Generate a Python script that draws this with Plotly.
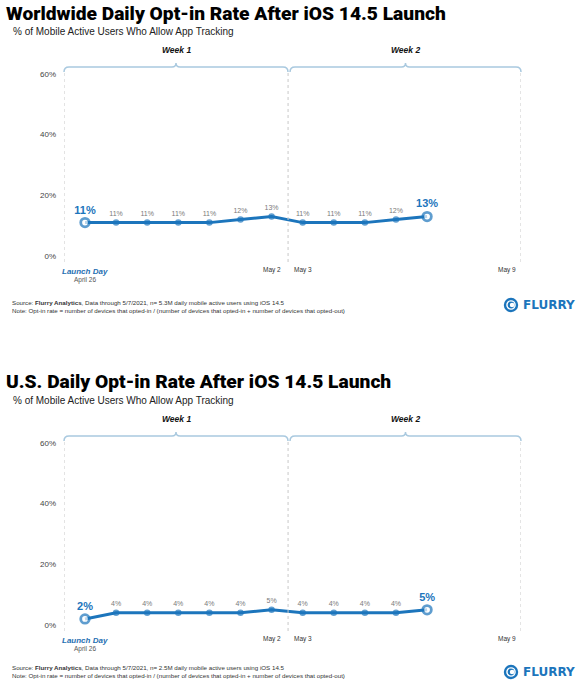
import plotly.graph_objects as go

W, H = 582, 691

# ---------------- data ----------------
day_index = list(range(12))  # Apr 26 .. May 7
ww_values = [11, 11, 11, 11, 11, 12, 13, 11, 11, 11, 12, 13]
us_values = [2, 4, 4, 4, 4, 4, 5, 4, 4, 4, 4, 5]
titles = ["Worldwide Daily Opt-in Rate After iOS 14.5 Launch",
          "U.S. Daily Opt-in Rate After iOS 14.5 Launch"]
subtitle = "% of Mobile Active Users Who Allow App Tracking"
sample_sizes = ["5.3M", "2.5M"]
y_ticks = [0, 20, 40, 60]
week_labels = ["Week 1", "Week 2"]
x_labels = ["May 2", "May 3", "May 9"]
x_label_pos = [6, 7, 13.57]
week_bounds = [-0.675, 6.53, 14.02]

BLUE = "#1c75bc"
BRACE = "#a9c9df"
GRAY = "#7a7a7a"


def px(x):
    return x / W


def py(y):
    return 1 - y / H


fig = go.Figure()
annotations = []
shapes = []

XR = [week_bounds[0], week_bounds[2]]
YR = [-1.98, 61.3]

for k, (vals, title, n) in enumerate(zip([ww_values, us_values], titles, sample_sizes)):
    off = 369 * k
    xa = "x" if k == 0 else "x2"
    ya = "y" if k == 0 else "y2"
    xname = "xaxis" if k == 0 else "xaxis2"
    yname = "yaxis" if k == 0 else "yaxis2"

    last = len(vals) - 1
    texts = []
    sizes, fills, lws, tsizes, tcolors = [], [], [], [], []
    for i, v in enumerate(vals):
        end = i in (0, last)
        texts.append(f"<b>{v}%</b>" if end else f"{v}%")
        sizes.append(8.5 if end else 6.5)
        fills.append("white" if end else BLUE)
        lws.append(2.8 if end else 0)
        tsizes.append(11 if end else 7)
        tcolors.append(BLUE if end else GRAY)

    fig.add_trace(go.Scatter(
        x=day_index, y=vals, xaxis=xa, yaxis=ya,
        mode="lines+markers+text",
        line=dict(color=BLUE, width=3),
        marker=dict(size=sizes, color=fills, line=dict(color=BLUE, width=lws)),
        text=texts, textposition="top center",
        textfont=dict(size=tsizes, color=tcolors, family="Liberation Sans, Arial"),
        cliponaxis=False, showlegend=False, hoverinfo="skip",
    ))

    y_top = 70 + off
    y_bot = 262 + off
    fig.update_layout({
        xname: dict(domain=[px(64), px(521)], range=XR, visible=False,
                    anchor=ya, fixedrange=True),
        yname: dict(domain=[py(y_bot), py(y_top)], range=YR, anchor=xa,
                    tickvals=y_ticks, ticktext=[f"{t}%" for t in y_ticks],
                    showgrid=False, zeroline=False, showline=False, ticks="",
                    ticklabelstandoff=7,
                    tickfont=dict(size=8, color="#444", family="Liberation Sans, Arial")),
    })

    # dotted week separators
    for xb in week_bounds:
        shapes.append(dict(type="line", xref=xa, yref=f"{ya} domain", x0=xb, x1=xb,
                           y0=0, y1=1, line=dict(color="#c8c8c8", width=1, dash="dot")))

    # braces
    yb = 67 + off
    brace_px = [(64, 288), (290, 521)]
    for (a, b), wl in zip(brace_px, week_labels):
        m = (a + b) / 2
        pts = (f"M {px(a)},{py(yb + 5)} Q {px(a)},{py(yb)} {px(a + 5)},{py(yb)} "
               f"L {px(m - 4)},{py(yb)} Q {px(m)},{py(yb)} {px(m)},{py(yb - 4)} "
               f"Q {px(m)},{py(yb)} {px(m + 4)},{py(yb)} "
               f"L {px(b - 5)},{py(yb)} Q {px(b)},{py(yb)} {px(b)},{py(yb + 5)}")
        shapes.append(dict(type="path", xref="paper", yref="paper", path=pts,
                           line=dict(color=BRACE, width=1.5)))
        annotations.append(dict(x=px(m), y=py(50 + off), xref="paper", yref="paper",
                                text=f"<b><i>{wl}</i></b>", showarrow=False,
                                font=dict(size=8.5, color="#111", family="Liberation Sans, Arial"),
                                xanchor="center", yanchor="middle"))

    # title / subtitle
    annotations.append(dict(x=px(4), y=py(13 + off), xref="paper", yref="paper",
                            text=title, showarrow=False,
                            font=dict(size=19.2, color="#000", family="Roboto", weight=900),
                            xanchor="left", yanchor="middle"))
    annotations.append(dict(x=px(11), y=py(31 + off), xref="paper", yref="paper",
                            text=subtitle, showarrow=False,
                            font=dict(size=10, color="#222", family="Liberation Sans, Arial"),
                            xanchor="left", yanchor="middle"))

    # x labels
    annotations.append(dict(x=0, y=py(271 + off), xref=xa, yref="paper",
                            text="<b><i>Launch Day</i></b>", showarrow=False,
                            font=dict(size=8, color="#1f6fb2", family="Liberation Sans, Arial"),
                            xanchor="center", yanchor="middle"))
    annotations.append(dict(x=0, y=py(280 + off), xref=xa, yref="paper",
                            text="April 26", showarrow=False,
                            font=dict(size=6.5, color="#555", family="Liberation Sans, Arial"),
                            xanchor="center", yanchor="middle"))
    for lbl, xp in zip(x_labels, x_label_pos):
        annotations.append(dict(x=xp, y=py(270 + off), xref=xa, yref="paper",
                                text=lbl, showarrow=False,
                                font=dict(size=6.5, color="#333", family="Liberation Sans, Arial"),
                                xanchor="center", yanchor="middle"))

    # footer
    foff = 0 if k == 0 else 365
    annotations.append(dict(x=px(10), y=py(302 + foff), xref="paper", yref="paper",
                            text=(f"Source: <b>Flurry Analytics</b>, Data through 5/7/2021, "
                                  f"n= {n} daily mobile active users using iOS 14.5"),
                            showarrow=False,
                            font=dict(size=6.2, color="#333", family="Liberation Sans, Arial"),
                            xanchor="left", yanchor="middle"))
    annotations.append(dict(x=px(10), y=py(310 + foff), xref="paper", yref="paper",
                            text=("Note: Opt-in rate = number of devices that opted-in / "
                                  "(number of devices that opted-in + number of devices that opted-out)"),
                            showarrow=False,
                            font=dict(size=6.2, color="#333", family="Liberation Sans, Arial"),
                            xanchor="left", yanchor="middle"))

    # logo
    lo = 305 if k == 0 else 672
    cx = 511
    shapes.append(dict(type="circle", xref="paper", yref="paper",
                       x0=px(cx - 6), x1=px(cx + 6), y0=py(lo + 6), y1=py(lo - 6),
                       line=dict(color=BLUE, width=2.4), fillcolor="rgba(0,0,0,0)"))
    shapes.append(dict(type="circle", xref="paper", yref="paper",
                       x0=px(cx - 3.4), x1=px(cx + 3.4), y0=py(lo + 3.4), y1=py(lo - 3.4),
                       line=dict(width=0), fillcolor=BLUE))
    shapes.append(dict(type="circle", xref="paper", yref="paper",
                       x0=px(cx - 1.2), x1=px(cx + 3.4), y0=py(lo + 2.3), y1=py(lo - 2.3),
                       line=dict(width=0), fillcolor="white"))
    annotations.append(dict(x=px(521), y=py(lo), xref="paper", yref="paper",
                            text="<b>FLURRY</b>", showarrow=False,
                            font=dict(size=12, color=BLUE, family="DejaVu Sans"),
                            xanchor="left", yanchor="middle"))

fig.update_layout(
    width=W, height=H,
    margin=dict(l=0, r=0, t=0, b=0),
    paper_bgcolor="white", plot_bgcolor="white",
    annotations=annotations, shapes=shapes,
    showlegend=False,
)

fig.write_html("out.html")
